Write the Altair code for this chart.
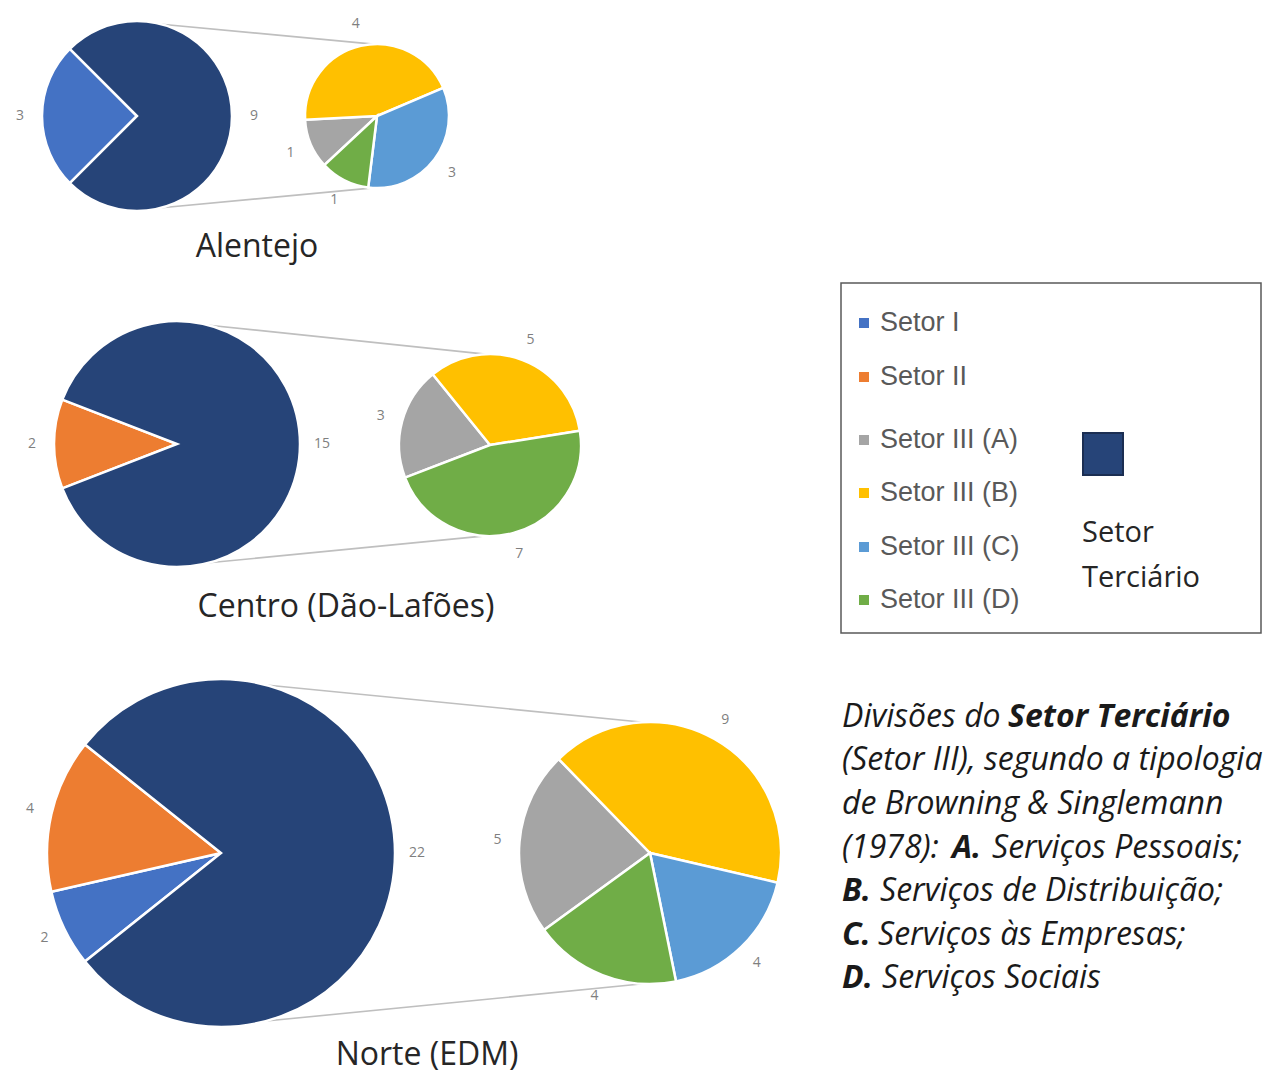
import math
import altair as alt
import pandas as pd

# ---------------- data ----------------
regions = ["Alentejo", "Centro (Dão-Lafões)", "Norte (EDM)"]
main_categories = ["Setor I", "Setor II", "Setor III"]
main_values = {
    "Alentejo": [3, 0, 9],
    "Centro (Dão-Lafões)": [0, 2, 15],
    "Norte (EDM)": [2, 4, 22],
}
sub_categories = ["Setor III (A)", "Setor III (B)", "Setor III (C)", "Setor III (D)"]
sub_values = {
    "Alentejo": [1, 4, 3, 1],
    "Centro (Dão-Lafões)": [3, 5, 0, 7],
    "Norte (EDM)": [5, 9, 4, 4],
}
legend_labels = ["Setor I", "Setor II", "Setor III (A)", "Setor III (B)", "Setor III (C)", "Setor III (D)"]
legend_title = ["Setor", "Terciário"]
note_lines = [
    [("Divisões do ", False), ("Setor Terciário", True)],
    [("(Setor III), segundo a tipologia", False)],
    [("de Browning & Singlemann", False)],
    [("(1978): ", False), ("A.", True), ("Serviços Pessoais;", False)],
    [("B.", True), ("Serviços de Distribuição;", False)],
    [("C.", True), ("Serviços às Empresas;", False)],
    [("D.", True), ("Serviços Sociais", False)],
]

# ---------------- styles / layout ----------------
color_domain = ["Setor I", "Setor II", "Setor III", "Setor III (A)", "Setor III (B)", "Setor III (C)", "Setor III (D)"]
color_range = ["#4472C4", "#ED7D31", "#264478", "#A5A5A5", "#FFC000", "#5B9BD5", "#70AD47"]
color_scale = alt.Scale(domain=color_domain, range=color_range)

OFF = 8  # page margin
layout = {
    "Alentejo": dict(mc=(137, 116), mr=95, sc=(377, 116), sr=72, s_start=227, title=(257, 247)),
    "Centro (Dão-Lafões)": dict(mc=(177, 444), mr=123, sc=(490, 445), sr=91, s_start=249, title=(346, 607)),
    "Norte (EDM)": dict(mc=(221, 853), mr=174, sc=(650, 853), sr=131, s_start=234, title=(427, 1055)),
}
LABEL_OFF = 22
label_font = "Open Sans"
title_font = "Open Sans"

layers = []


def pie(cats, vals, cx, cy, r, start_deg):
    df = pd.DataFrame({"cat": cats, "v": vals, "ord": list(range(len(cats)))})
    df = df[df["v"] > 0]
    total = float(df["v"].sum())
    s = math.radians(start_deg)
    scale = alt.Scale(domain=[0, total], range=[s, s + 2 * math.pi])
    theta = alt.Theta("v:Q", stack=True, scale=scale)
    base = alt.Chart(df)
    arc = base.mark_arc(radius=r, stroke="white", strokeWidth=2.5).encode(
        theta=theta,
        color=alt.Color("cat:N", scale=color_scale, legend=None),
        order=alt.Order("ord:Q"),
        x=alt.value(cx - OFF),
        y=alt.value(cy - OFF),
    )
    txt = base.mark_text(radius=r + LABEL_OFF, fontSize=14, color="#7f7f7f", font=label_font).encode(
        theta=theta,
        text=alt.Text("v:Q"),
        order=alt.Order("ord:Q"),
        x=alt.value(cx - OFF),
        y=alt.value(cy - OFF),
    )
    return [arc, txt]


rules = []
titles = []
for reg in regions:
    L = layout[reg]
    mv = main_values[reg]
    other = sum(mv[:2])
    tot = sum(mv)
    main_start = 270 - (other / tot) * 360 / 2
    layers += pie(main_categories, mv, L["mc"][0], L["mc"][1], L["mr"], main_start)
    layers += pie(sub_categories, sub_values[reg], L["sc"][0], L["sc"][1], L["sr"], L["s_start"])
    # connector lines
    a1 = math.radians(75)
    a2 = math.radians(93)
    for sgn in (1, -1):
        rules.append(dict(
            x=L["mc"][0] + L["mr"] * math.cos(a1) - OFF,
            y=L["mc"][1] - sgn * L["mr"] * math.sin(a1) - OFF,
            x2=L["sc"][0] + L["sr"] * math.cos(a2) - OFF,
            y2=L["sc"][1] - sgn * L["sr"] * math.sin(a2) - OFF,
        ))
    titles.append(dict(t=reg, x=L["title"][0] - OFF, y=L["title"][1] - OFF))

X = lambda f: alt.X(f, scale=None, axis=None)
Y = lambda f: alt.Y(f, scale=None, axis=None)

rule_layer = alt.Chart(pd.DataFrame(rules)).mark_rule(color="#BFBFBF", strokeWidth=1.6).encode(
    x=X("x:Q"), y=Y("y:Q"), x2="x2:Q", y2="y2:Q")

title_layer = alt.Chart(pd.DataFrame(titles)).mark_text(
    fontSize=32, font=title_font, color="#262626", align="center", baseline="middle").encode(
    x=X("x:Q"), y=Y("y:Q"), text="t:N")

# legend box
box = alt.Chart(pd.DataFrame([dict(x=841 - OFF, y=283 - OFF, x2=1261 - OFF, y2=633 - OFF)])).mark_rect(
    fill="#ffffff", fillOpacity=0, stroke="#595959", strokeWidth=1.5).encode(
    x=X("x:Q"), y=Y("y:Q"), x2="x2:Q", y2="y2:Q")

legend_y = [323, 377, 440, 493, 547, 600]
leg_df = pd.DataFrame({"cat": legend_labels, "y": [v - OFF for v in legend_y]})
leg_df["xs"] = 864 - OFF
leg_df["xt"] = 880 - OFF
leg_sq = alt.Chart(leg_df).mark_square(size=100, opacity=1).encode(
    x=X("xs:Q"), y=Y("y:Q"), color=alt.Color("cat:N", scale=color_scale, legend=None))
leg_txt = alt.Chart(leg_df).mark_text(
    fontSize=27, font="Liberation Sans", color="#595959", align="left", baseline="middle").encode(
    x=X("xt:Q"), y=Y("y:Q"), text="cat:N")

big_sq = alt.Chart(pd.DataFrame([dict(x=1083 - OFF, y=433 - OFF, x2=1123 - OFF, y2=475 - OFF, cat="Setor III")])).mark_rect(
    stroke="#1B2E52", strokeWidth=2).encode(
    x=X("x:Q"), y=Y("y:Q"), x2="x2:Q", y2="y2:Q", color=alt.Color("cat:N", scale=color_scale, legend=None))
big_txt = alt.Chart(pd.DataFrame({"t": legend_title, "x": [1082 - OFF] * 2, "y": [533 - OFF, 578 - OFF]})).mark_text(
    fontSize=29, font=title_font, color="#262626", align="left", baseline="middle").encode(
    x=X("x:Q"), y=Y("y:Q"), text="t:N")

# note text block
note_y = [717, 760, 804, 848, 891, 935, 978]
seg_x = [
    [842, 1008],
    [842],
    [842],
    [842, 952, 992],
    [842, 880],
    [842, 878],
    [842, 882],
]
rows = []
for i, line in enumerate(note_lines):
    for j, (t, b) in enumerate(line):
        rows.append(dict(t=t, x=seg_x[i][j] - OFF, y=note_y[i] - OFF, b=b))
note_df = pd.DataFrame(rows)
note_norm = alt.Chart(note_df[~note_df["b"]]).mark_text(
    fontSize=32, font="Open Sans", fontStyle="italic", color="#1a1a1a", align="left", baseline="middle").encode(
    x=X("x:Q"), y=Y("y:Q"), text="t:N")
note_bold = alt.Chart(note_df[note_df["b"]]).mark_text(
    fontSize=32, font="Open Sans", fontStyle="italic", fontWeight="bold", color="#1a1a1a", align="left",
    baseline="middle").encode(
    x=X("x:Q"), y=Y("y:Q"), text="t:N")

chart = alt.layer(
    rule_layer, *layers, title_layer, box, leg_sq, leg_txt, big_sq, big_txt, note_norm, note_bold
).resolve_scale(theta="independent").properties(
    width=1262, height=1066, padding=0,
    autosize=alt.AutoSizeParams(type="none"),
    background="white",
).configure_view(stroke=None)

chart.save("out.html", embed_options={"renderer": "svg", "actions": False})
